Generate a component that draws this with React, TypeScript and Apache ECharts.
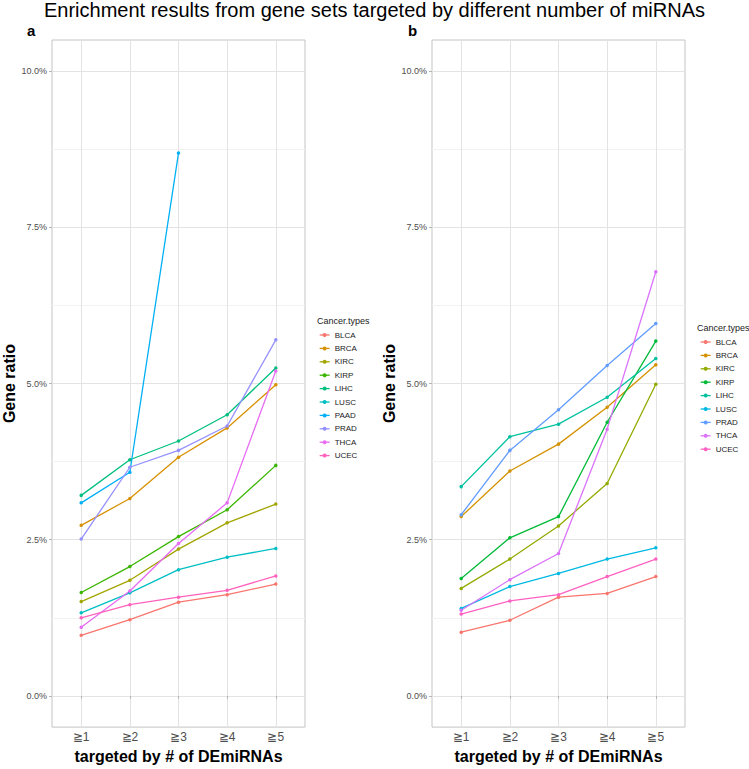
import React, { useEffect, useRef } from "react";
import * as echarts from "echarts";

const categories = ["≧1", "≧2", "≧3", "≧4", "≧5"];
const categoryPositions = [1, 2, 3, 4, 5];
const yTickValues = [0, 2.5, 5, 7.5, 10];
const yMinorValues = [1.25, 3.75, 6.25, 8.75];

// Panel a (10 cancer types)
const namesA = ["BLCA", "BRCA", "KIRC", "KIRP", "LIHC", "LUSC", "PAAD", "PRAD", "THCA", "UCEC"];
const colorsA = ["#F8766D", "#D89000", "#A3A500", "#39B600", "#00BF7D", "#00BFC4", "#00B0F6", "#9590FF", "#E76BF3", "#FF62BC"];
const blcaA = [0.97, 1.22, 1.5, 1.62, 1.79];
const brcaA = [2.73, 3.16, 3.82, 4.29, 4.98];
const kircA = [1.51, 1.85, 2.35, 2.77, 3.07];
const kirpA = [1.655, 2.07, 2.55, 2.98, 3.69];
const lihcA = [3.21, 3.78, 4.08, 4.5, 5.25];
const luscA = [1.33, 1.65, 2.02, 2.22, 2.36];
const paadA = [3.09, 3.58, 8.69, null, null];
const pradA = [2.51, 3.66, 3.93, 4.32, 5.7];
const thcaA = [1.1, 1.68, 2.44, 3.09, 5.2];
const ucecA = [1.25, 1.46, 1.58, 1.69, 1.92];
const valuesA = [blcaA, brcaA, kircA, kirpA, lihcA, luscA, paadA, pradA, thcaA, ucecA];

// Panel b (9 cancer types)
const namesB = ["BLCA", "BRCA", "KIRC", "KIRP", "LIHC", "LUSC", "PRAD", "THCA", "UCEC"];
const colorsB = ["#F8766D", "#D39200", "#93AA00", "#00BA38", "#00C19F", "#00B9E3", "#619CFF", "#DB72FB", "#FF61C3"];
const blcaB = [1.02, 1.21, 1.58, 1.64, 1.91];
const brcaB = [2.87, 3.6, 4.03, 4.62, 5.3];
const kircB = [1.72, 2.19, 2.72, 3.4, 4.99];
const kirpB = [1.88, 2.53, 2.87, 4.38, 5.68];
const lihcB = [3.35, 4.15, 4.35, 4.78, 5.4];
const luscB = [1.4, 1.75, 1.96, 2.19, 2.37];
const pradB = [2.9, 3.93, 4.58, 5.29, 5.96];
const thcaB = [1.37, 1.86, 2.28, 4.27, 6.79];
const ucecB = [1.31, 1.52, 1.62, 1.91, 2.19];
const valuesB = [blcaB, brcaB, kircB, kirpB, lihcB, luscB, pradB, thcaB, ucecB];

const FONT = "'Liberation Sans', Arial, sans-serif";

function buildSeries(names: string[], colors: string[], values: (number | null)[][], axisIndex: number) {
  return names.map((name, i) => ({
    type: "line",
    name,
    xAxisIndex: axisIndex,
    yAxisIndex: axisIndex * 2,
    data: values[i]
      .map((v, j) => (v === null ? null : [categoryPositions[j], v]))
      .filter((d) => d !== null),
    symbol: "circle",
    symbolSize: 3.5,
    lineStyle: { width: 1.3, color: colors[i] },
    itemStyle: { color: colors[i] },
    emphasis: { disabled: true },
  }));
}

function xAxis(gridIndex: number) {
  return {
    type: "value",
    gridIndex,
    min: 0.4,
    max: 5.6,
    name: "targeted by # of DEmiRNAs",
    nameLocation: "middle",
    nameGap: 17,
    nameTextStyle: { fontFamily: FONT, fontSize: 16, fontWeight: "bold", color: "#000" },
    axisLine: { show: false },
    axisTick: { show: true, customValues: categoryPositions, length: 3, lineStyle: { color: "#B3B3B3" } },
    axisLabel: {
      customValues: categoryPositions,
      formatter: (v: number) => categories[Math.round(v) - 1] ?? "",
      fontFamily: FONT,
      fontSize: 12,
      color: "#4D4D4D",
      margin: 4,
    },
    splitLine: { show: true, lineStyle: { color: "#E3E3E3", width: 1 } },
  };
}

function yAxisMajor(gridIndex: number) {
  return {
    type: "value",
    gridIndex,
    min: -0.5,
    max: 10.5,
    name: "Gene ratio",
    nameLocation: "middle",
    nameGap: 26,
    nameTextStyle: { fontFamily: FONT, fontSize: 16, fontWeight: "bold", color: "#000" },
    axisLine: { show: false },
    axisTick: { show: true, customValues: yTickValues, length: 3, lineStyle: { color: "#B3B3B3" } },
    axisLabel: {
      customValues: yTickValues,
      formatter: (v: number) => v.toFixed(1) + "%",
      fontFamily: FONT,
      fontSize: 9,
      color: "#4D4D4D",
      margin: 5,
    },
    splitLine: { show: true, lineStyle: { color: "#E3E3E3", width: 1 } },
  };
}

function yAxisMinor(gridIndex: number) {
  return {
    type: "value",
    gridIndex,
    min: -0.5,
    max: 10.5,
    position: "left",
    axisLine: { show: false },
    axisTick: { show: false, customValues: yMinorValues },
    axisLabel: { show: false, customValues: yMinorValues },
    splitLine: { show: true, lineStyle: { color: "#F2F2F2", width: 1 } },
  };
}

function legend(names: string[], colors: string[], left: number, top: number) {
  return {
    orient: "vertical",
    left,
    top,
    padding: 0,
    itemWidth: 10,
    itemHeight: 5,
    itemGap: 3.4,
    selectedMode: false,
    textStyle: { fontFamily: FONT, fontSize: 8, lineHeight: 10, color: "#1A1A1A" },
    data: names.map((n, i) => ({
      name: n,
      itemStyle: { color: colors[i] },
      lineStyle: { color: colors[i], width: 1.3 },
    })),
  };
}

export default function App() {
  const ref = useRef<HTMLDivElement>(null);
  useEffect(() => {
    document.body.style.margin = "0";
    if (!ref.current) return;
    const chart = echarts.init(ref.current, null, { renderer: "svg" });
    chart.setOption({
      animation: false,
      backgroundColor: "#FFFFFF",
      title: [
        {
          text: "Enrichment results from gene sets targeted by different number of miRNAs",
          left: "center",
          top: 0,
          padding: 0,
          textStyle: { fontFamily: FONT, fontSize: 20, fontWeight: "normal", color: "#000" },
        },
        { text: "a", left: 27, top: 23, padding: 0, textStyle: { fontFamily: FONT, fontSize: 15, fontWeight: "bold", color: "#000" } },
        { text: "b", left: 408, top: 23, padding: 0, textStyle: { fontFamily: FONT, fontSize: 15, fontWeight: "bold", color: "#000" } },
        { text: "Cancer.types", left: 317, top: 316, padding: 0, textStyle: { fontFamily: FONT, fontSize: 9, fontWeight: "normal", color: "#1A1A1A" } },
        { text: "Cancer.types", left: 697, top: 323, padding: 0, textStyle: { fontFamily: FONT, fontSize: 9, fontWeight: "normal", color: "#1A1A1A" } },
      ],
      legend: [legend(namesA, colorsA, 319, 330), legend(namesB, colorsB, 700, 337)],
      grid: [
        { left: 52, top: 40, width: 253, height: 697, show: true, borderColor: "#C4C4C4", borderWidth: 1, backgroundColor: "transparent" },
        { left: 432, top: 40, width: 253, height: 697, show: true, borderColor: "#C4C4C4", borderWidth: 1, backgroundColor: "transparent" },
      ],
      xAxis: [xAxis(0), xAxis(1)],
      yAxis: [yAxisMajor(0), yAxisMinor(0), yAxisMajor(1), yAxisMinor(1)],
      series: [...buildSeries(namesA, colorsA, valuesA, 0), ...buildSeries(namesB, colorsB, valuesB, 1)],
    });
    return () => chart.dispose();
  }, []);
  return <div ref={ref} style={{ width: 749, height: 769 }} />;
}
